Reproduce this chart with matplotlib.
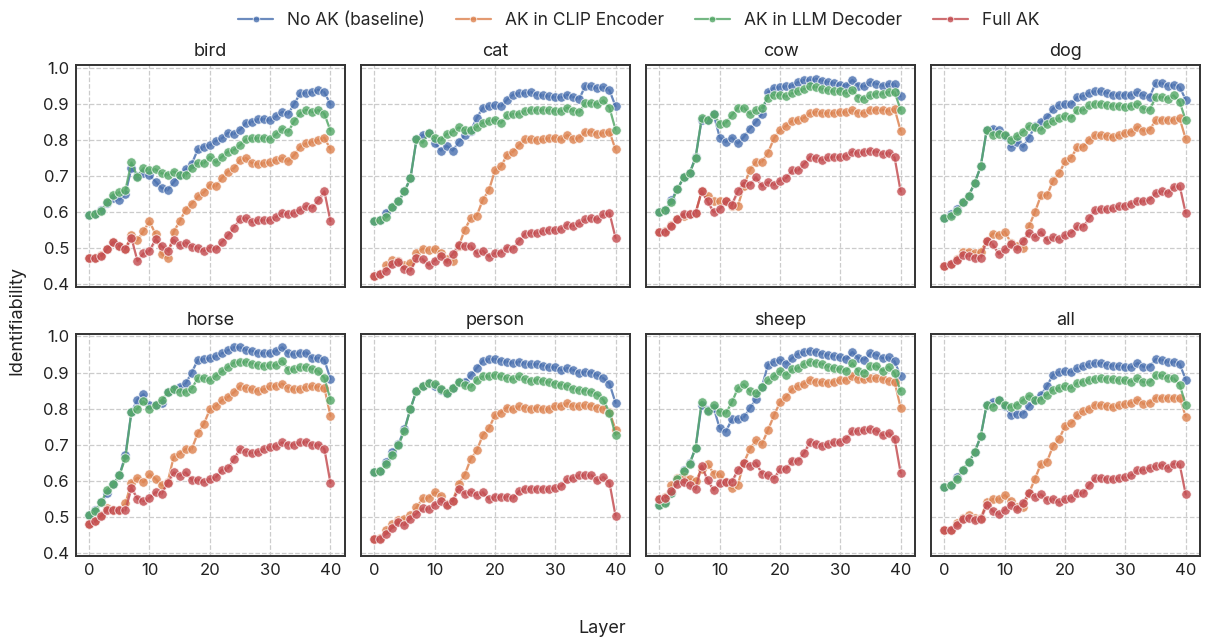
import matplotlib
matplotlib.use("Agg")
import matplotlib.pyplot as plt
import numpy as np
import seaborn as sns

layers = np.arange(41)
panels = ["bird", "cat", "cow", "dog", "horse", "person", "sheep", "all"]
series_names = ["No AK (baseline)", "AK in CLIP Encoder", "AK in LLM Decoder", "Full AK"]

# identifiability per layer
bird_base = [0.591, 0.595, 0.604, 0.625, 0.639, 0.634, 0.65, 0.721, 0.70, 0.709, 0.703, 0.684, 0.666, 0.661,
             0.682, 0.703, 0.718, 0.733, 0.773, 0.781, 0.785, 0.797, 0.804, 0.819, 0.816, 0.828, 0.847, 0.85,
             0.857, 0.857, 0.854, 0.865, 0.877, 0.872, 0.90, 0.929, 0.93, 0.932, 0.939, 0.932, 0.898]
bird_clip = [0.471, 0.473, 0.48, 0.496, 0.516, 0.505, 0.498, 0.535, 0.522, 0.547, 0.574, 0.538, 0.483, 0.473,
             0.545, 0.574, 0.606, 0.623, 0.643, 0.654, 0.675, 0.671, 0.694, 0.712, 0.721, 0.744, 0.749, 0.735,
             0.733, 0.735, 0.737, 0.744, 0.749, 0.74, 0.758, 0.781, 0.79, 0.794, 0.80, 0.806, 0.773]
bird_llm = [0.591, 0.594, 0.602, 0.627, 0.648, 0.654, 0.66, 0.737, 0.698, 0.721, 0.717, 0.718, 0.707, 0.703,
            0.712, 0.703, 0.703, 0.721, 0.735, 0.735, 0.753, 0.737, 0.753, 0.767, 0.772, 0.785, 0.801, 0.804,
            0.804, 0.806, 0.801, 0.816, 0.831, 0.822, 0.852, 0.874, 0.883, 0.877, 0.882, 0.872, 0.825]
bird_full = [0.471, 0.471, 0.478, 0.498, 0.516, 0.505, 0.498, 0.528, 0.464, 0.485, 0.492, 0.524, 0.505, 0.492,
             0.522, 0.507, 0.515, 0.504, 0.501, 0.492, 0.501, 0.496, 0.516, 0.535, 0.556, 0.581, 0.583, 0.572,
             0.577, 0.577, 0.577, 0.586, 0.597, 0.595, 0.597, 0.605, 0.616, 0.611, 0.632, 0.657, 0.574]

cat_base = [0.574, 0.577, 0.597, 0.614, 0.629, 0.657, 0.694, 0.801, 0.813, 0.819, 0.792, 0.77, 0.783, 0.77,
            0.794, 0.813, 0.825, 0.861, 0.889, 0.893, 0.895, 0.893, 0.911, 0.925, 0.929, 0.929, 0.932, 0.925,
            0.923, 0.92, 0.918, 0.918, 0.925, 0.918, 0.914, 0.95, 0.948, 0.943, 0.946, 0.937, 0.893]
cat_clip = [0.423, 0.428, 0.452, 0.467, 0.464, 0.452, 0.458, 0.485, 0.498, 0.494, 0.498, 0.485, 0.469, 0.464,
            0.505, 0.551, 0.583, 0.59, 0.634, 0.66, 0.715, 0.726, 0.758, 0.767, 0.785, 0.801, 0.801, 0.799,
            0.801, 0.804, 0.806, 0.801, 0.813, 0.801, 0.806, 0.822, 0.822, 0.817, 0.819, 0.822, 0.773]
cat_llm = [0.574, 0.577, 0.585, 0.614, 0.629, 0.657, 0.694, 0.801, 0.792, 0.819, 0.806, 0.799, 0.816, 0.822,
           0.834, 0.827, 0.828, 0.836, 0.847, 0.852, 0.856, 0.847, 0.868, 0.871, 0.872, 0.88, 0.883, 0.883,
           0.883, 0.882, 0.88, 0.88, 0.889, 0.88, 0.877, 0.902, 0.902, 0.898, 0.909, 0.889, 0.828]
cat_full = [0.423, 0.428, 0.437, 0.455, 0.461, 0.441, 0.437, 0.471, 0.469, 0.452, 0.464, 0.478, 0.462, 0.483,
            0.507, 0.505, 0.505, 0.485, 0.492, 0.476, 0.485, 0.487, 0.501, 0.498, 0.519, 0.54, 0.542, 0.542,
            0.547, 0.55, 0.55, 0.553, 0.565, 0.561, 0.568, 0.579, 0.583, 0.579, 0.593, 0.597, 0.528]

cow_base = [0.599, 0.606, 0.634, 0.663, 0.696, 0.707, 0.752, 0.854, 0.856, 0.871, 0.806, 0.794, 0.806, 0.79,
            0.808, 0.831, 0.85, 0.872, 0.932, 0.944, 0.946, 0.948, 0.95, 0.96, 0.966, 0.966, 0.969, 0.964,
            0.96, 0.957, 0.953, 0.95, 0.966, 0.95, 0.948, 0.96, 0.955, 0.95, 0.955, 0.955, 0.92]
cow_clip = [0.544, 0.547, 0.565, 0.581, 0.59, 0.593, 0.597, 0.657, 0.643, 0.629, 0.629, 0.629, 0.617, 0.616,
            0.671, 0.717, 0.739, 0.739, 0.764, 0.804, 0.827, 0.838, 0.852, 0.856, 0.861, 0.874, 0.877, 0.874,
            0.874, 0.874, 0.877, 0.877, 0.882, 0.874, 0.874, 0.883, 0.883, 0.883, 0.88, 0.886, 0.825]
cow_llm = [0.599, 0.606, 0.627, 0.663, 0.696, 0.707, 0.749, 0.859, 0.856, 0.871, 0.845, 0.847, 0.868, 0.889,
           0.889, 0.872, 0.882, 0.889, 0.917, 0.925, 0.925, 0.92, 0.929, 0.935, 0.941, 0.948, 0.946, 0.941,
           0.937, 0.934, 0.935, 0.929, 0.939, 0.917, 0.914, 0.923, 0.928, 0.928, 0.932, 0.932, 0.883]
cow_full = [0.544, 0.544, 0.561, 0.581, 0.593, 0.593, 0.597, 0.657, 0.629, 0.599, 0.608, 0.629, 0.62, 0.657,
            0.68, 0.675, 0.696, 0.671, 0.682, 0.675, 0.687, 0.694, 0.715, 0.715, 0.733, 0.753, 0.749, 0.744,
            0.751, 0.753, 0.753, 0.755, 0.767, 0.762, 0.767, 0.77, 0.767, 0.761, 0.764, 0.751, 0.657]

dog_base = [0.584, 0.593, 0.608, 0.627, 0.645, 0.68, 0.726, 0.827, 0.831, 0.827, 0.81, 0.78, 0.795, 0.78,
            0.806, 0.838, 0.85, 0.863, 0.886, 0.897, 0.898, 0.90, 0.918, 0.921, 0.93, 0.934, 0.934, 0.93,
            0.925, 0.925, 0.925, 0.925, 0.932, 0.923, 0.918, 0.957, 0.957, 0.95, 0.952, 0.946, 0.911]
dog_clip = [0.45, 0.455, 0.47, 0.49, 0.49, 0.485, 0.49, 0.52, 0.54, 0.535, 0.545, 0.515, 0.505, 0.50,
            0.56, 0.60, 0.646, 0.646, 0.687, 0.707, 0.74, 0.75, 0.78, 0.78, 0.80, 0.813, 0.813, 0.81,
            0.808, 0.813, 0.82, 0.822, 0.836, 0.825, 0.827, 0.854, 0.856, 0.856, 0.856, 0.859, 0.802]
dog_llm = [0.584, 0.59, 0.602, 0.627, 0.645, 0.68, 0.726, 0.827, 0.813, 0.817, 0.813, 0.80, 0.81, 0.822,
           0.838, 0.834, 0.828, 0.843, 0.852, 0.859, 0.865, 0.861, 0.882, 0.882, 0.895, 0.90, 0.90, 0.895,
           0.894, 0.894, 0.891, 0.894, 0.90, 0.886, 0.882, 0.918, 0.918, 0.914, 0.923, 0.905, 0.854]
dog_full = [0.45, 0.456, 0.466, 0.48, 0.478, 0.473, 0.473, 0.52, 0.51, 0.483, 0.496, 0.51, 0.496, 0.52,
            0.542, 0.53, 0.544, 0.521, 0.53, 0.524, 0.535, 0.542, 0.56, 0.559, 0.583, 0.606, 0.608, 0.608,
            0.61, 0.616, 0.617, 0.623, 0.631, 0.629, 0.634, 0.652, 0.657, 0.652, 0.669, 0.672, 0.596]

horse_base = [0.505, 0.52, 0.54, 0.565, 0.59, 0.615, 0.67, 0.79, 0.825, 0.84, 0.81, 0.81, 0.815, 0.845,
              0.855, 0.86, 0.87, 0.90, 0.935, 0.937, 0.94, 0.945, 0.953, 0.962, 0.97, 0.97, 0.963, 0.96,
              0.955, 0.953, 0.955, 0.96, 0.97, 0.953, 0.95, 0.955, 0.955, 0.94, 0.94, 0.935, 0.882]
horse_clip = [0.48, 0.487, 0.505, 0.523, 0.52, 0.52, 0.537, 0.595, 0.608, 0.596, 0.618, 0.605, 0.587, 0.596,
              0.665, 0.675, 0.688, 0.688, 0.732, 0.757, 0.798, 0.807, 0.823, 0.832, 0.845, 0.862, 0.857, 0.853,
              0.85, 0.853, 0.862, 0.863, 0.869, 0.857, 0.853, 0.855, 0.86, 0.862, 0.86, 0.857, 0.78]
horse_llm = [0.505, 0.515, 0.54, 0.575, 0.59, 0.615, 0.663, 0.79, 0.80, 0.82, 0.80, 0.81, 0.823, 0.845,
             0.855, 0.847, 0.847, 0.855, 0.885, 0.885, 0.878, 0.89, 0.903, 0.915, 0.927, 0.93, 0.93, 0.925,
             0.92, 0.918, 0.92, 0.92, 0.933, 0.907, 0.91, 0.915, 0.915, 0.91, 0.903, 0.885, 0.825]
horse_full = [0.48, 0.487, 0.503, 0.52, 0.52, 0.52, 0.518, 0.58, 0.55, 0.543, 0.552, 0.568, 0.564, 0.594,
              0.623, 0.614, 0.623, 0.603, 0.603, 0.596, 0.605, 0.61, 0.63, 0.634, 0.66, 0.688, 0.68, 0.677,
              0.68, 0.688, 0.694, 0.695, 0.706, 0.70, 0.70, 0.706, 0.708, 0.699, 0.70, 0.688, 0.594]

person_base = [0.623, 0.627, 0.652, 0.68, 0.702, 0.743, 0.80, 0.85, 0.863, 0.87, 0.863, 0.852, 0.842, 0.857,
               0.875, 0.875, 0.893, 0.913, 0.933, 0.937, 0.937, 0.933, 0.93, 0.927, 0.93, 0.925, 0.923, 0.923,
               0.919, 0.916, 0.915, 0.907, 0.912, 0.907, 0.90, 0.902, 0.90, 0.893, 0.884, 0.869, 0.816]
person_clip = [0.438, 0.441, 0.464, 0.479, 0.491, 0.495, 0.505, 0.526, 0.551, 0.553, 0.568, 0.559, 0.535, 0.544,
               0.592, 0.617, 0.661, 0.684, 0.727, 0.745, 0.782, 0.789, 0.803, 0.798, 0.806, 0.803, 0.80, 0.803,
               0.798, 0.80, 0.807, 0.807, 0.815, 0.807, 0.807, 0.809, 0.808, 0.803, 0.80, 0.791, 0.742]
person_llm = [0.623, 0.627, 0.645, 0.671, 0.698, 0.739, 0.80, 0.85, 0.863, 0.87, 0.868, 0.855, 0.843, 0.857,
              0.875, 0.866, 0.86, 0.88, 0.889, 0.889, 0.893, 0.889, 0.884, 0.882, 0.889, 0.881, 0.877, 0.88,
              0.877, 0.873, 0.869, 0.866, 0.863, 0.855, 0.852, 0.85, 0.846, 0.839, 0.824, 0.789, 0.727]
person_full = [0.438, 0.439, 0.453, 0.47, 0.485, 0.477, 0.495, 0.509, 0.523, 0.521, 0.534, 0.544, 0.533, 0.544,
               0.578, 0.564, 0.569, 0.56, 0.568, 0.549, 0.556, 0.556, 0.556, 0.551, 0.571, 0.578, 0.578, 0.578,
               0.578, 0.578, 0.58, 0.585, 0.604, 0.608, 0.615, 0.615, 0.615, 0.601, 0.61, 0.594, 0.503]

sheep_base = [0.533, 0.54, 0.566, 0.602, 0.629, 0.648, 0.691, 0.81, 0.795, 0.803, 0.745, 0.736, 0.77, 0.77,
              0.776, 0.801, 0.827, 0.86, 0.922, 0.93, 0.936, 0.925, 0.94, 0.952, 0.957, 0.96, 0.957, 0.952,
              0.949, 0.946, 0.942, 0.938, 0.957, 0.94, 0.936, 0.954, 0.949, 0.94, 0.942, 0.931, 0.89]
sheep_clip = [0.55, 0.556, 0.588, 0.608, 0.61, 0.604, 0.598, 0.633, 0.647, 0.62, 0.618, 0.597, 0.58, 0.588,
              0.65, 0.688, 0.713, 0.702, 0.741, 0.781, 0.818, 0.832, 0.854, 0.863, 0.869, 0.88, 0.875, 0.873,
              0.871, 0.875, 0.88, 0.88, 0.891, 0.882, 0.882, 0.884, 0.884, 0.882, 0.877, 0.875, 0.802]
sheep_llm = [0.533, 0.537, 0.566, 0.605, 0.628, 0.646, 0.691, 0.819, 0.794, 0.809, 0.79, 0.787, 0.817, 0.856,
             0.867, 0.848, 0.842, 0.86, 0.878, 0.889, 0.905, 0.894, 0.909, 0.912, 0.924, 0.93, 0.927, 0.924,
             0.916, 0.912, 0.909, 0.905, 0.926, 0.903, 0.90, 0.918, 0.918, 0.905, 0.916, 0.898, 0.848]
sheep_full = [0.55, 0.553, 0.571, 0.592, 0.597, 0.588, 0.576, 0.642, 0.601, 0.574, 0.595, 0.597, 0.597, 0.629,
              0.65, 0.642, 0.65, 0.62, 0.615, 0.606, 0.632, 0.632, 0.656, 0.656, 0.677, 0.708, 0.702, 0.697,
              0.702, 0.706, 0.708, 0.717, 0.738, 0.738, 0.741, 0.743, 0.738, 0.726, 0.732, 0.717, 0.622]

all_base = [0.583, 0.588, 0.61, 0.631, 0.651, 0.679, 0.723, 0.811, 0.818, 0.823, 0.807, 0.781, 0.786, 0.786,
            0.807, 0.825, 0.839, 0.863, 0.894, 0.901, 0.903, 0.901, 0.912, 0.918, 0.923, 0.926, 0.926, 0.921,
            0.919, 0.918, 0.916, 0.915, 0.926, 0.916, 0.916, 0.937, 0.935, 0.93, 0.93, 0.924, 0.88]
all_clip = [0.462, 0.464, 0.483, 0.498, 0.504, 0.496, 0.496, 0.54, 0.549, 0.548, 0.56, 0.544, 0.526, 0.526,
            0.565, 0.606, 0.647, 0.653, 0.697, 0.716, 0.752, 0.759, 0.781, 0.793, 0.80, 0.811, 0.81, 0.807,
            0.805, 0.809, 0.813, 0.816, 0.825, 0.813, 0.816, 0.83, 0.83, 0.83, 0.83, 0.83, 0.778]
all_llm = [0.583, 0.588, 0.604, 0.631, 0.651, 0.679, 0.723, 0.811, 0.805, 0.823, 0.811, 0.805, 0.811, 0.823,
           0.836, 0.825, 0.825, 0.839, 0.852, 0.857, 0.863, 0.857, 0.871, 0.875, 0.88, 0.883, 0.884, 0.883,
           0.882, 0.878, 0.878, 0.875, 0.884, 0.873, 0.873, 0.892, 0.892, 0.886, 0.884, 0.866, 0.811]
all_full = [0.462, 0.464, 0.476, 0.494, 0.498, 0.492, 0.494, 0.533, 0.516, 0.507, 0.519, 0.534, 0.522, 0.539,
            0.565, 0.556, 0.562, 0.547, 0.549, 0.54, 0.549, 0.551, 0.565, 0.565, 0.589, 0.608, 0.608, 0.604,
            0.606, 0.608, 0.61, 0.615, 0.629, 0.63, 0.635, 0.64, 0.644, 0.635, 0.647, 0.645, 0.562]

data = {
    "bird": [bird_base, bird_clip, bird_llm, bird_full],
    "cat": [cat_base, cat_clip, cat_llm, cat_full],
    "cow": [cow_base, cow_clip, cow_llm, cow_full],
    "dog": [dog_base, dog_clip, dog_llm, dog_full],
    "horse": [horse_base, horse_clip, horse_llm, horse_full],
    "person": [person_base, person_clip, person_llm, person_full],
    "sheep": [sheep_base, sheep_clip, sheep_llm, sheep_full],
    "all": [all_base, all_clip, all_llm, all_full],
}

sns.set_style("white")
plt.rcParams["font.family"] = ["Inter", "DejaVu Sans"]
colors = sns.color_palette("deep", 4)
band = [0.005, 0.006, 0.005, 0.008]  # half-width of the shaded band

fig, axes = plt.subplots(2, 4, figsize=(12.05, 6.41), dpi=100, sharex=True, sharey=True)
fig.subplots_adjust(left=0.063, right=0.996, top=0.899, bottom=0.133, wspace=0.06, hspace=0.21)

for ax, name in zip(axes.flat, panels):
    for i, vals in enumerate(data[name]):
        vals = np.array(vals)
        ax.fill_between(layers, vals - band[i], vals + band[i], color=colors[i], alpha=0.2, lw=0)
        ax.plot(layers, vals, color=colors[i], lw=1.6, marker="o", ms=6.8, mec="white", mew=0.6,
                alpha=0.82, label=series_names[i])
    ax.set_title(name, fontsize=13, pad=6, color="#222222")
    ax.set_xlim(-2.2, 42.4)
    ax.set_ylim(0.392, 1.008)
    ax.set_xticks([0, 10, 20, 30, 40])
    ax.set_yticks([0.4, 0.5, 0.6, 0.7, 0.8, 0.9, 1.0])
    ax.grid(True, ls="--", color="#cccccc", lw=0.9)
    ax.tick_params(labelsize=12, length=0, pad=5, labelcolor="#222222")
    for s in ax.spines.values():
        s.set_color("#333333")
        s.set_linewidth(1.4)

handles, labels = axes[0, 0].get_legend_handles_labels()
fig.legend(handles, labels, loc="upper center", ncol=4, frameon=False, fontsize=12.5,
           bbox_to_anchor=(0.53, 1.005), handlelength=2, columnspacing=1.8, markerscale=0.7)
fig.text(0.5, 0.012, "Layer", ha="center", fontsize=13, color="#222222")
fig.text(0.007, 0.5, "Identifiability", va="center", rotation=90, fontsize=13, color="#222222")

fig.savefig("out.png", dpi=100)
